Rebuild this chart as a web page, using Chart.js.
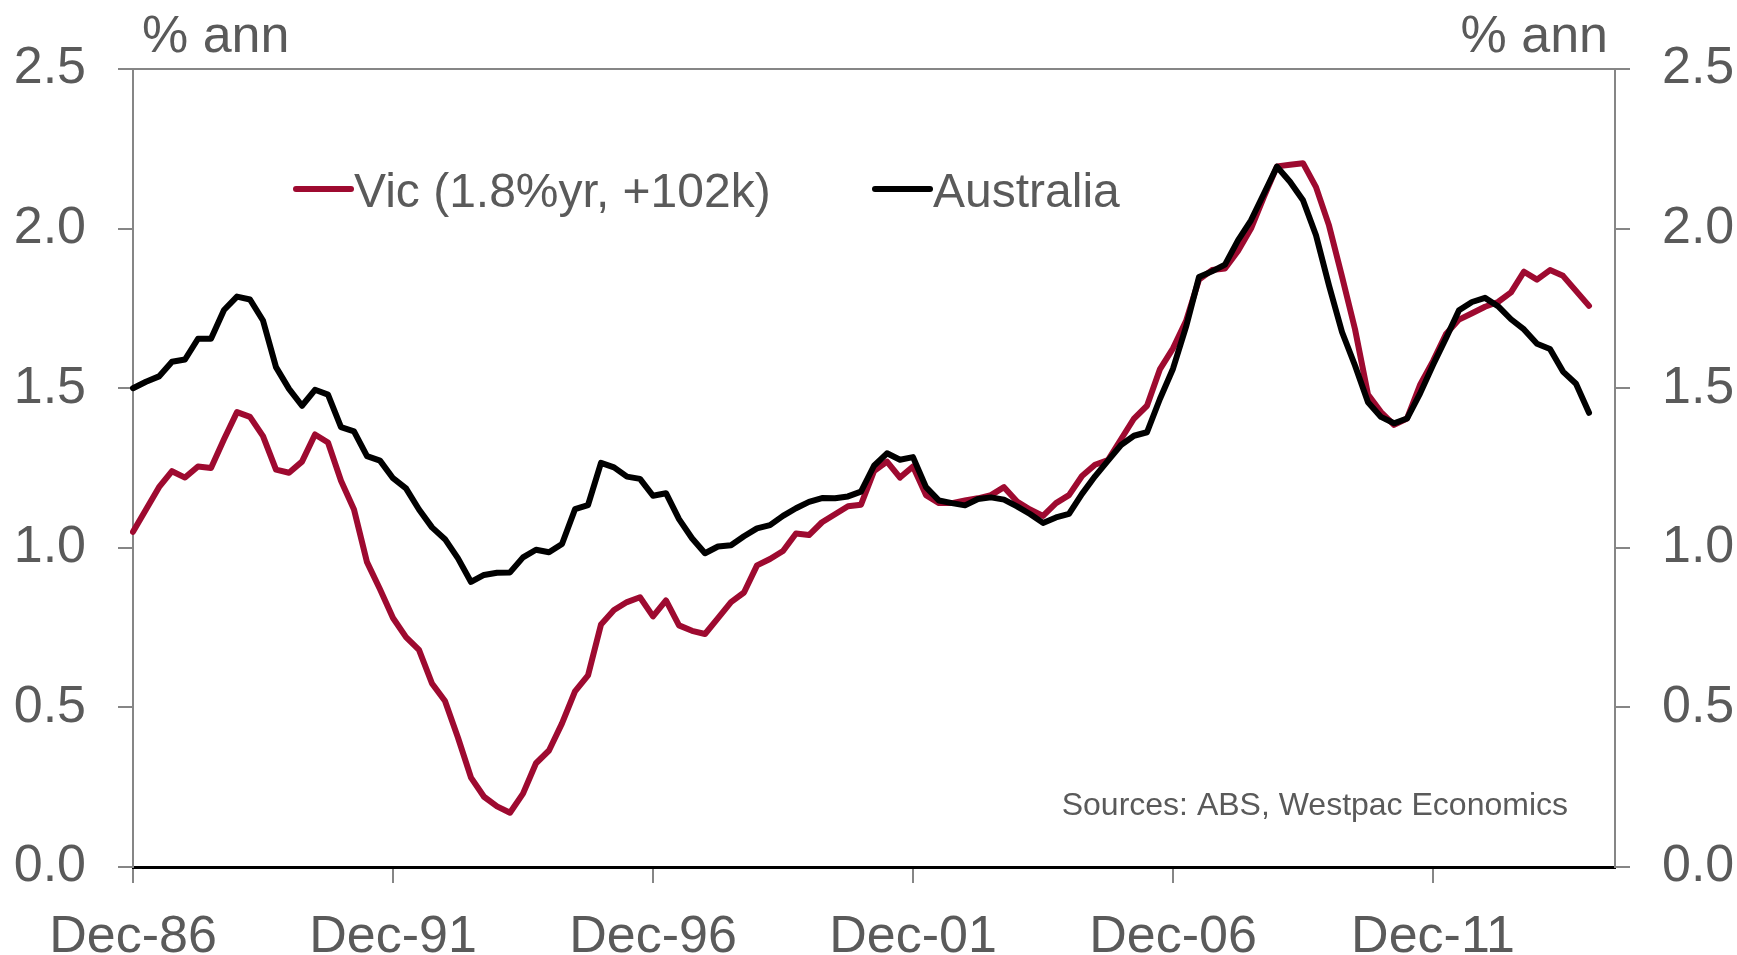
<!DOCTYPE html>
<html>
<head>
<meta charset="utf-8">
<title>Vic vs Australia population growth</title>
<script src="https://cdn.jsdelivr.net/npm/chart.js@4.4.1/dist/chart.umd.min.js"></script>
<style>
  html, body { margin: 0; padding: 0; background: #fff; }
  #chart { display: block; }
</style>
</head>
<body>
<canvas id="chart" width="1737" height="955"></canvas>
<script>
// quarterly categories, Dec-86 .. Jun-15 (axis runs a little past the last point)
const monthNames = ["Mar", "Jun", "Sep", "Dec"];
const quarters = ["Dec-86"];
for (let y = 87; quarters.length < 115; y++) {
    for (const m of monthNames) {
        if (quarters.length < 115) quarters.push(m + "-" + String(y % 100).padStart(2, "0"));
    }
}
const tickLabels = ["Dec-86", "Dec-91", "Dec-96", "Dec-01", "Dec-06", "Dec-11"];
const yTicks = [0, 0.5, 1.0, 1.5, 2.0, 2.5];

// % annual growth, Victoria
const vic = [
    1.05, 1.12, 1.19, 1.24, 1.22, 1.255, 1.25, 1.34, 1.425, 1.41,
    1.35, 1.245, 1.235, 1.27, 1.355, 1.33, 1.21, 1.12, 0.955, 0.87,
    0.78, 0.72, 0.68, 0.575, 0.52, 0.405, 0.28, 0.22, 0.19, 0.17,
    0.23, 0.325, 0.365, 0.45, 0.55, 0.60, 0.76, 0.805, 0.83, 0.845,
    0.785, 0.835, 0.757, 0.74, 0.73, 0.78, 0.83, 0.86, 0.945, 0.965,
    0.99, 1.045, 1.04, 1.08, 1.105, 1.13, 1.135, 1.24, 1.27, 1.22,
    1.255, 1.165, 1.14, 1.14, 1.148, 1.155, 1.165, 1.19, 1.145, 1.12,
    1.10, 1.14, 1.165, 1.225, 1.26, 1.275, 1.34, 1.405, 1.445, 1.56,
    1.625, 1.71, 1.84, 1.87, 1.875, 1.93, 2.00, 2.10, 2.195, 2.20,
    2.205, 2.13, 2.01, 1.85, 1.685, 1.48, 1.425, 1.385, 1.405, 1.51,
    1.585, 1.67, 1.715, 1.735, 1.755, 1.77, 1.80, 1.865, 1.84, 1.87,
    1.852, 1.805, 1.758
];

// % annual growth, Australia
const australia = [
    1.50, 1.52, 1.537, 1.583, 1.59, 1.655, 1.655, 1.745, 1.787, 1.778,
    1.712, 1.566, 1.498, 1.445, 1.495, 1.48, 1.378, 1.365, 1.287, 1.273,
    1.218, 1.186, 1.12, 1.064, 1.027, 0.967, 0.893, 0.915, 0.922, 0.923,
    0.97, 0.994, 0.986, 1.012, 1.121, 1.134, 1.266, 1.252, 1.223, 1.216,
    1.163, 1.171, 1.09, 1.03, 0.983, 1.004, 1.008, 1.036, 1.061, 1.071,
    1.10, 1.124, 1.144, 1.156, 1.155, 1.161, 1.176, 1.257, 1.296, 1.276,
    1.284, 1.19, 1.148, 1.14, 1.133, 1.153, 1.158, 1.151, 1.13, 1.106,
    1.078, 1.095, 1.106, 1.169, 1.224, 1.273, 1.322, 1.351, 1.362, 1.467,
    1.561, 1.692, 1.848, 1.866, 1.887, 1.963, 2.026, 2.11, 2.194, 2.147,
    2.089, 1.979, 1.822, 1.676, 1.571, 1.456, 1.41, 1.39, 1.405, 1.483,
    1.573, 1.657, 1.744, 1.77, 1.783, 1.757, 1.716, 1.684, 1.639, 1.623,
    1.552, 1.514, 1.423
];

const textGrey = "#5a5a5a";
const axisGrey = "#868686";
const vicRed = "#9e0a30";
const fontFamily = "'Liberation Sans', Arial, sans-serif";

function yAxis(position, width) {
    return {
        position: position,
        min: 0,
        max: 2.5,
        afterFit: scale => { scale.width = width; },
        afterBuildTicks: scale => { scale.ticks = yTicks.map(v => ({value: v})); },
        border: {display: true, color: axisGrey, width: 2},
        grid: {drawOnChartArea: false, drawTicks: true, tickLength: 15, color: axisGrey, lineWidth: 2},
        ticks: {
            padding: 32,
            color: textGrey,
            font: {family: fontFamily, size: 52},
            callback: v => Number(v).toFixed(1)
        }
    };
}

// titles, legend, source note and the top frame line
const annotations = {
    id: "annotations",
    afterDraw(chart) {
        const {ctx, chartArea} = chart;
        ctx.save();
        ctx.strokeStyle = axisGrey;
        ctx.lineWidth = 2;
        ctx.beginPath();
        ctx.moveTo(chartArea.left, chartArea.top);
        ctx.lineTo(chartArea.right, chartArea.top);
        ctx.stroke();

        ctx.fillStyle = textGrey;
        ctx.textBaseline = "alphabetic";
        ctx.font = "52px " + fontFamily;
        ctx.textAlign = "left";
        ctx.fillText("% ann", chartArea.left + 9, 52);
        ctx.textAlign = "right";
        ctx.fillText("% ann", chartArea.right - 7, 52);

        const legendItems = [
            {dataset: chart.data.datasets[1], x: 296},
            {dataset: chart.data.datasets[0], x: 875}
        ];
        ctx.font = "48px " + fontFamily;
        ctx.textAlign = "left";
        legendItems.forEach(item => {
            ctx.strokeStyle = item.dataset.borderColor;
            ctx.lineWidth = 6;
            ctx.lineCap = "round";
            ctx.beginPath();
            ctx.moveTo(item.x, 189);
            ctx.lineTo(item.x + 55, 189);
            ctx.stroke();
            ctx.fillStyle = textGrey;
            ctx.fillText(item.dataset.label, item.x + 58, 207);
        });

        ctx.font = "32px " + fontFamily;
        ctx.textAlign = "right";
        ctx.fillText("Sources: ABS, Westpac Economics", 1568, 815);
        ctx.restore();
    }
};

new Chart(document.getElementById("chart"), {
    type: "line",
    data: {
        labels: quarters,
        datasets: [
            {
                label: "Australia",
                data: australia,
                borderColor: "#000000",
                borderWidth: 6,
                order: 0
            },
            {
                label: "Vic (1.8%yr, +102k)",
                data: vic,
                borderColor: vicRed,
                borderWidth: 6,
                order: 1
            }
        ]
    },
    options: {
        responsive: false,
        animation: false,
        layout: {padding: {top: 69, left: 0, right: 0, bottom: 0}},
        elements: {
            point: {radius: 0},
            line: {tension: 0, borderJoinStyle: "round", borderCapStyle: "round"}
        },
        plugins: {
            legend: {display: false},
            tooltip: {enabled: false}
        },
        scales: {
            x: {
                afterFit: scale => { scale.height = 88; },
                border: {display: true, color: "#000000", width: 3},
                grid: {
                    drawOnChartArea: false,
                    drawTicks: true,
                    tickLength: 16,
                    lineWidth: 2,
                    color: c => (tickLabels.includes(quarters[c.index]) ? axisGrey : "rgba(0,0,0,0)")
                },
                ticks: {
                    autoSkip: false,
                    maxRotation: 0,
                    padding: 23,
                    color: textGrey,
                    font: {family: fontFamily, size: 52},
                    callback: (v, i) => (tickLabels.includes(quarters[i]) ? quarters[i] : "")
                }
            },
            y: yAxis("left", 133),
            y2: yAxis("right", 122)
        }
    },
    plugins: [annotations]
});
</script>
</body>
</html>
